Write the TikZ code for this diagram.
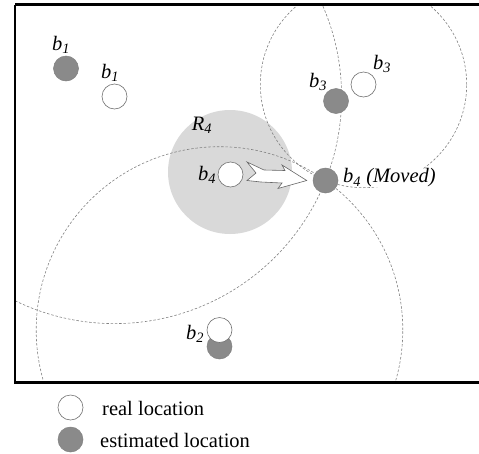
\documentclass[tikz,border=0pt]{standalone}
\usepackage{fontspec}
\setmainfont{Liberation Serif}
\usetikzlibrary{calc}
\definecolor{diskgray}{RGB}{217,217,217}
\definecolor{estgray}{RGB}{138,138,138}
\definecolor{dashgray}{RGB}{130,130,130}
\begin{document}
\begin{tikzpicture}[x=1pt,y=-1pt,
  realpt/.style={circle,draw=black!55,line width=0.6pt,fill=white,minimum size=25pt,inner sep=0pt},
  estpt/.style={circle,draw=black!50,line width=0.5pt,fill=estgray,minimum size=25pt,inner sep=0pt},
  lbl/.style={font=\fontsize{20.5}{24}\selectfont\itshape,inner sep=0pt},
  legtext/.style={font=\fontsize{20.5}{24}\selectfont,inner sep=0pt,anchor=base west},
  rangecirc/.style={draw=dashgray,line width=0.6pt,dash pattern=on 2.5pt off 1.8pt},
  fatarrow/.style={draw=black!60,line width=0.6pt,fill=white,line join=miter}]
\useasboundingbox (0,0) rectangle (479,453);
% range disk
\coordinate (r4c) at (230,172);
\fill[diskgray] (r4c) circle[radius=62pt];
% point nodes (coordinates first, for the range circles)
\coordinate (c1) at (114.5,96.5);
\coordinate (c2) at (219.5,330);
\coordinate (c3) at (363.5,84.5);
% dashed range circles, clipped to the frame
\begin{scope}
  \clip (15,4.5) rectangle (485,382.5);
  \draw[rangecirc] (c3) circle[radius=103.2pt];
  \draw[rangecirc] (c1) circle[radius=227.1pt];
  \draw[rangecirc] (c2) circle[radius=183.3pt];
\end{scope}
% frame
\draw[line width=2.2pt] (15,4.5) -- (482,4.5);
\draw[line width=2.2pt] (15,4.5) -- (15,382.5) -- (482,382.5);
% nodes
\node[estpt]  (b1e) at (66,68.5) {};
\node[realpt] (b1r) at (c1) {};
\node[estpt]  (b3e) at (336,101) {};
\node[realpt] (b3r) at (c3) {};
\node[estpt]  (b2e) at (219.5,346.5) {};
\node[realpt] (b2r) at (c2) {};
\node[realpt] (b4r) at (230.5,174.5) {};
\node[estpt]  (b4m) at (325.5,180.5) {};
% fat arrow from b4 to moved b4
\coordinate (tip) at ($(b4m.west)+(-6,0)$);
\draw[fatarrow] (247,162) -- (264,170) -- (285,170.5) -- (282,165) -- (tip)
  -- (278,188.5) -- (282,183) -- (261,182) -- (247,180.5) -- (256,173) -- cycle;
% labels
\node[lbl] (lb1e) at (61,45) {b\textsubscript{1}};
\node[lbl] (lb1r) at (110,73) {b\textsubscript{1}};
\node[lbl] (lb3e) at (318,82) {b\textsubscript{3}};
\node[lbl] (lb3r) at (382,64) {b\textsubscript{3}};
\node[lbl] (lr4)  at (202,125) {R\textsubscript{4}};
\node[lbl] (lb4)  at (207,175) {b\textsubscript{4}};
\node[lbl] (lb2)  at (195,334) {b\textsubscript{2}};
\node[lbl,anchor=west] (lb4m) at (343,178) {b\textsubscript{4} {\setlength\fboxsep{0pt}\colorbox{white}{(Moved)}}};
% legend
\node[realpt] (legr) at (70.5,407.5) {};
\node[estpt]  (lege) at (70.5,439.5) {};
\node[legtext] (legrt) at (102,415) {real location};
\node[legtext] (leget) at (100,447) {estimated location};
\end{tikzpicture}
\end{document}
